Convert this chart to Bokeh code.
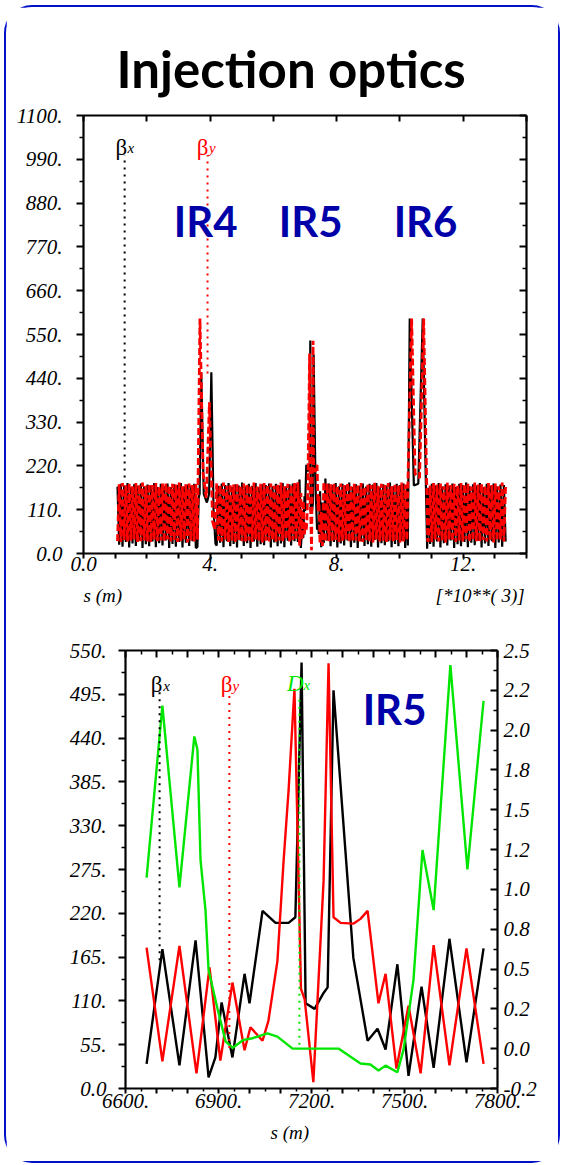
import numpy as np
from bokeh.plotting import figure
from bokeh.models import Range1d, LinearAxis, FixedTicker, Label, Title
from bokeh.layouts import column
from bokeh.embed import file_html
from bokeh.resources import INLINE

# ---------------- data: IR5 zoom (s in metres) ----------------
ir5_bx_s = [6668, 6719, 6774, 6826, 6868, 6890, 6910, 6945, 6984, 7000, 7042, 7084, 7126, 7148,
            7168, 7181, 7210, 7239, 7252, 7271, 7335, 7381, 7413, 7439, 7477, 7513, 7555, 7594,
            7645, 7700, 7755]
ir5_bx = [31, 175, 29, 186, 14, 39, 108, 39, 144, 107, 223, 208, 208, 215,
          535, 107, 100, 120, 127, 500, 164, 60, 75, 49, 156, 16, 128, 26,
          188, 33, 176]
ir5_by_s = [6668, 6719, 6774, 6829, 6871, 6906, 6945, 6984, 7003, 7042, 7061, 7090, 7110, 7126,
            7145, 7166, 7178, 7206, 7239, 7255, 7271, 7294, 7335, 7358, 7381, 7416, 7439, 7474,
            7513, 7552, 7594, 7645, 7700, 7755]
ir5_by = [177, 34, 179, 19, 152, 35, 133, 48, 77, 60, 85, 160, 286, 374,
          502, 125, 112, 8, 261, 534, 215, 208, 207, 213, 223, 107, 144, 25,
          104, 19, 180, 29, 176, 31]
ir5_dx_s = [6668, 6719, 6774, 6822, 6832, 6842, 6858, 6868, 6897, 6923, 6945, 6981, 7010, 7058,
            7090, 7139, 7287, 7358, 7390, 7416, 7439, 7477, 7497, 7529, 7558, 7594, 7648, 7703,
            7755]
ir5_dx = [1.10, 2.16, 1.04, 1.97, 1.89, 1.21, 0.90, 0.53, 0.29, 0.09, 0.05, 0.10, 0.11, 0.14,
          0.12, 0.046, 0.046, -0.046, -0.052, -0.089, -0.059, -0.10, 0.04, 0.47, 1.27, 0.90, 2.41, 1.15,
          2.19]

# ---------------- data: whole ring (s in km) ----------------
arc1_range = (1.075, 3.55)
arc1_bx = [168, 22, 175, 17, 171, 29, 177, 15, 166, 25, 174, 19, 170, 32, 176, 14,
           168, 23, 173, 18, 171, 30, 177, 16, 167, 26, 175, 20, 169, 33, 176, 14,
           167, 24, 174, 17, 172, 29, 177, 15, 168, 27, 173, 19, 170, 31, 175, 14]
arc1_by = [31, 174, 29, 177, 34, 171, 30, 176, 32, 169, 35, 177, 29, 173, 31, 178,
           33, 170, 30, 175, 28, 172, 34, 177, 31, 168, 33, 176, 29, 177, 35, 171,
           30, 175, 32, 173, 29, 178, 31, 169, 34, 174, 28, 176, 32, 172, 30, 175]
ir4_bx_s = [3.60, 3.64, 3.67, 3.72, 3.80, 3.90, 3.97, 4.04, 4.11, 4.17]
ir4_bx = [16, 140, 150, 455, 150, 128, 150, 455, 110, 25]
ir4_by_s = [3.60, 3.68, 3.78, 3.88, 3.98, 4.08, 4.15]
ir4_by = [35, 590, 200, 140, 380, 80, 60]
arc2_range = (4.21, 6.615)
arc2_bx = [20, 170, 27, 176, 16, 172, 31, 177, 18, 167, 24, 174, 15, 171, 33, 178,
           19, 168, 26, 175, 14, 170, 30, 177, 17, 166, 23, 174, 21, 172, 34, 176,
           15, 169, 28, 175, 18, 171, 25, 177, 16, 168, 32, 174, 20, 176]
arc2_by = [176, 33, 172, 30, 178, 35, 170, 29, 175, 32, 173, 28, 177, 34, 169, 31,
           176, 30, 174, 33, 171, 29, 178, 35, 168, 31, 175, 28, 177, 32, 172, 30,
           176, 34, 170, 29, 174, 33, 178, 31, 169, 35, 175, 30, 173, 34]
arc3_range = (7.808, 10.22)
arc3_bx = [18, 172, 29, 177, 15, 169, 25, 175, 20, 171, 33, 178, 16, 167, 27, 174,
           14, 170, 31, 176, 19, 168, 23, 175, 17, 173, 34, 177, 15, 166, 26, 174,
           21, 171, 30, 178, 16, 169, 24, 175, 18, 172, 32, 176, 14, 170]
arc3_by = [174, 30, 177, 34, 170, 29, 176, 32, 172, 35, 178, 28, 169, 31, 175, 33,
           173, 30, 177, 29, 168, 34, 176, 31, 172, 28, 178, 35, 170, 30, 175, 32,
           174, 29, 177, 33, 169, 31, 176, 34, 171, 28, 178, 30, 173, 33]
ir6_bx_s = [10.25, 10.31, 10.44, 10.58, 10.72, 10.86]
ir6_bx = [20, 590, 171, 175, 590, 12]
ir6_by_s = [10.25, 10.37, 10.48, 10.62, 10.75, 10.88]
ir6_by = [170, 590, 200, 190, 590, 30]
arc4_range = (10.90, 13.34)
arc4_bx = [165, 24, 175, 17, 171, 30, 177, 15, 168, 26, 174, 20, 170, 33, 176, 14,
           167, 23, 175, 18, 172, 29, 178, 16, 169, 27, 174, 21, 171, 32, 177, 15,
           166, 25, 175, 19, 170, 31, 176, 14, 168, 28, 173, 17, 172, 30]
arc4_by = [33, 171, 29, 177, 35, 173, 30, 176, 32, 169, 28, 178, 34, 172, 31, 175,
           29, 170, 33, 177, 30, 174, 35, 176, 28, 168, 32, 178, 31, 173, 29, 175,
           34, 170, 30, 177, 33, 172, 28, 176, 32, 169, 35, 178, 30, 174]

# tick labels
top_y_ticks = [0, 110, 220, 330, 440, 550, 660, 770, 880, 990, 1100]
top_y_labels = ["0.0", "110.", "220.", "330.", "440.", "550.", "660.", "770.", "880.", "990.", "1100."]
top_x_ticks = list(range(0, 15))
top_x_labels = {0: "0.0", 4: "4.", 8: "8.", 12: "12."}
bot_y_ticks = [0, 55, 110, 165, 220, 275, 330, 385, 440, 495, 550]
bot_y_labels = ["0.0", "55.", "110.", "165.", "220.", "275.", "330.", "385.", "440.", "495.", "550."]
bot_x_ticks = [6600, 6700, 6800, 6900, 7000, 7100, 7200, 7300, 7400, 7500, 7600, 7700, 7800]
bot_x_labels = {6600: "6600.", 6900: "6900.", 7200: "7200.", 7500: "7500.", 7800: "7800."}
dx_labels = ["-0.2", "0.0", "0.2", "0.5", "0.8", "1.0", "1.2", "1.5", "1.8", "2.0", "2.2", "2.5"]

# legend marker positions
top_leg_bx = ([1.30, 1.30], [191, 1000])
top_leg_by = ([3.92, 3.92], [452, 1000])
bot_leg_bx = ([6710, 6710], [161, 500])
bot_leg_by = ([6935, 6935], [51, 500])
bot_leg_dx = ([7161, 7161], [0.07, 2.2])

SERIF = "Liberation Serif"
SANS = "Lato"
IRBLUE = "#0000A8"
GREEN = "#00E600"
NB = "\u00a0"


def style_axis(ax, tin, tout, mtin, mtout, labels=True, standoff=8):
    ax.axis_line_width = 2.2
    ax.axis_line_color = "black"
    ax.major_tick_line_width = 2
    ax.minor_tick_line_width = 1.5
    ax.major_tick_in = tin
    ax.major_tick_out = tout
    ax.minor_tick_in = mtin
    ax.minor_tick_out = mtout
    ax.major_label_text_font = SERIF
    ax.major_label_text_font_style = "italic"
    ax.major_label_text_font_size = "21px" if labels else "0px"
    ax.major_label_text_color = "black"
    ax.major_label_standoff = standoff if labels else 0


def arc(rng, vals):
    return list(np.linspace(rng[0], rng[1], len(vals)))


def no_align(p):
    if "frame_align" in p.properties():
        p.frame_align = False


def label(p, x, y, text, color="black", font=SERIF, style="normal", size="23px", align="center", **kw):
    p.add_layout(Label(x=x, y=y, text=text, text_font=font, text_font_style=style,
                       text_font_size=size, text_align=align, text_baseline="alphabetic",
                       text_color=color, **kw))


# ================= top figure =================
p1 = figure(frame_width=443, frame_height=438, x_range=Range1d(0, 14), y_range=Range1d(0, 1100),
            min_border_left=77, min_border_right=32, min_border_top=108, min_border_bottom=72,
            output_backend="svg", toolbar_location=None)
no_align(p1)
p1.grid.visible = False
p1.outline_line_color = None

top_bx_s = (arc(arc1_range, arc1_bx) + ir4_bx_s + arc(arc2_range, arc2_bx)
            + [s / 1000 for s in ir5_bx_s] + arc(arc3_range, arc3_bx) + ir6_bx_s + arc(arc4_range, arc4_bx))
top_bx = arc1_bx + ir4_bx + arc2_bx + ir5_bx + arc3_bx + ir6_bx + arc4_bx
top_by_s = (arc(arc1_range, arc1_by) + ir4_by_s + arc(arc2_range, arc2_by)
            + [s / 1000 for s in ir5_by_s] + arc(arc3_range, arc3_by) + ir6_by_s + arc(arc4_range, arc4_by))
top_by = arc1_by + ir4_by + arc2_by + ir5_by + arc3_by + ir6_by + arc4_by

p1.line(top_bx_s, top_bx, line_color="black", line_width=2.2)
p1.line(top_by_s, top_by, line_color="red", line_width=2.8, line_dash="7 3")
p1.line(*top_leg_bx, line_color="black", line_width=2, line_dash="2 5")
p1.line(*top_leg_by, line_color="red", line_width=2, line_dash="2 5")

xb = p1.xaxis[0]
xb.ticker = FixedTicker(ticks=top_x_ticks, minor_ticks=[])
xb.major_label_overrides = {t: top_x_labels.get(t, "") for t in top_x_ticks}
style_axis(xb, 0, 5, 0, 0, standoff=-2)
yl = p1.yaxis[0]
yl.ticker = FixedTicker(ticks=top_y_ticks, minor_ticks=[t + 55 for t in top_y_ticks[:-1]])
yl.major_label_overrides = dict(zip(top_y_ticks, top_y_labels))
style_axis(yl, 0, 7, 0, 4, standoff=14)
xa = LinearAxis(ticker=FixedTicker(ticks=list(range(0, 15, 2)), minor_ticks=[]))
xa.major_label_overrides = {t: "" for t in range(0, 15, 2)}
style_axis(xa, 6, 0, 0, 0, labels=False)
p1.add_layout(xa, "above")
yr = LinearAxis(ticker=FixedTicker(ticks=top_y_ticks, minor_ticks=[t + 55 for t in top_y_ticks[:-1]]))
yr.major_label_overrides = {t: "" for t in top_y_ticks}
style_axis(yr, 7, 0, 4, 0, labels=False)
p1.add_layout(yr, "right")

p1.title.text = "Injection optics"
p1.title.text_font = SANS
p1.title.text_font_style = "bold"
p1.title.text_font_size = "51px"
p1.title.text_color = "black"
p1.title.align = "left"
p1.title.offset = 33
p1.title.standoff = 34

p1.add_layout(Title(text="s (m)" + NB * 66 + "[*10**( 3)]", align="left", offset=0,
                    text_font=SERIF, text_font_style="italic", text_font_size="19px",
                    text_color="black", standoff=18), "below")

for sx, txt in [(3.86, "IR4"), (7.18, "IR5"), (10.81, "IR6")]:
    label(p1, sx, 836, txt, color=IRBLUE, font=SANS, style="bold", size="42px")
label(p1, 1.20, 1020, "β")
label(p1, 1.39, 1018, "x", style="italic", size="15px", align="left")
label(p1, 3.76, 1020, "β", color="red")
label(p1, 3.97, 1018, "y", color="red", style="italic", size="15px", align="left")

# ================= bottom figure =================
p2 = figure(frame_width=372, frame_height=438, x_range=Range1d(6600, 7800), y_range=Range1d(0, 550),
            min_border_left=119, min_border_right=61, min_border_top=25, min_border_bottom=73,
            output_backend="svg", toolbar_location=None)
no_align(p2)
p2.extra_y_ranges = {"dx": Range1d(-0.2, 2.5)}
p2.grid.visible = False
p2.outline_line_color = None

p2.line(ir5_bx_s, ir5_bx, line_color="black", line_width=2.4)
p2.line(ir5_by_s, ir5_by, line_color="red", line_width=2.4)
p2.line(ir5_dx_s, ir5_dx, line_color=GREEN, line_width=2.4, y_range_name="dx")
p2.line(*bot_leg_bx, line_color="black", line_width=2, line_dash="2 5")
p2.line(*bot_leg_by, line_color="red", line_width=2, line_dash="2 5")
p2.line(*bot_leg_dx, line_color=GREEN, line_width=2, line_dash="2 5", y_range_name="dx")

xb2 = p2.xaxis[0]
xb2.ticker = FixedTicker(ticks=bot_x_ticks, minor_ticks=[t + 50 for t in bot_x_ticks[:-1]])
xb2.major_label_overrides = {t: bot_x_labels.get(t, "") for t in bot_x_ticks}
style_axis(xb2, 0, 5, 0, 3, standoff=0)
yl2 = p2.yaxis[0]
yl2.ticker = FixedTicker(ticks=bot_y_ticks, minor_ticks=[t + 27.5 for t in bot_y_ticks[:-1]])
yl2.major_label_overrides = dict(zip(bot_y_ticks, bot_y_labels))
style_axis(yl2, 0, 7, 0, 4, standoff=12)
xa2 = LinearAxis(ticker=FixedTicker(ticks=bot_x_ticks, minor_ticks=[t + 50 for t in bot_x_ticks[:-1]]))
xa2.major_label_overrides = {t: "" for t in bot_x_ticks}
style_axis(xa2, 7, 0, 4, 0, labels=False)
p2.add_layout(xa2, "above")
dx_ticks = [-0.2 + k * 2.7 / 11 for k in range(12)]
yr2 = LinearAxis(y_range_name="dx",
                 ticker=FixedTicker(ticks=dx_ticks,
                                    minor_ticks=[(a + b) / 2 for a, b in zip(dx_ticks[:-1], dx_ticks[1:])]))
yr2.major_label_overrides = dict(zip(dx_ticks, dx_labels))
style_axis(yr2, 7, 0, 4, 0, standoff=6)
p2.add_layout(yr2, "right")

p2.add_layout(Title(text="s (m)", align="left", offset=145,
                    text_font=SERIF, text_font_style="italic", text_font_size="19px",
                    text_color="black", standoff=18), "below")

label(p2, 7468, 477, "IR5", color=IRBLUE, font=SANS, style="bold", size="42px")
label(p2, 6700, 507, "β")
label(p2, 6722, 505, "x", style="italic", size="15px", align="left")
label(p2, 6926, 507, "β", color="red")
label(p2, 6945, 505, "y", color="red", style="italic", size="15px", align="left")
label(p2, 7148, 509, "D", color=GREEN, style="italic")
label(p2, 7174, 507, "x", color=GREEN, style="italic", size="15px", align="left")

layout = column(p1, p2, spacing=0,
                styles={"margin-left": "6px", "margin-top": "7px",
                        "width": "552px", "height": "1154px",
                        "box-shadow": "0 0 0 2px #0010C8", "border-radius": "26px"})

open("out.html", "w").write(file_html(layout, INLINE))
